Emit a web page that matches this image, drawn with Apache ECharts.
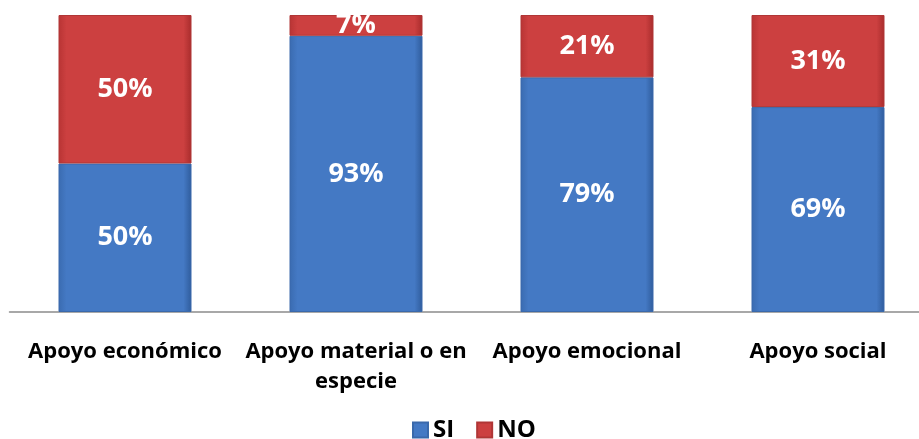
<!DOCTYPE html>
<html><head><meta charset="utf-8">
<script src="https://cdn.jsdelivr.net/npm/echarts@6/dist/echarts.min.js"></script>
<style>html,body{margin:0;padding:0;background:#fff;overflow:hidden;width:919px;height:439px}#c{width:934px;height:439px}</style>
</head><body><div id="c"></div>
<script>
const categories = ['Apoyo económico', 'Apoyo material o en\nespecie', 'Apoyo emocional', 'Apoyo social'];
const siValues = [50, 93, 79, 69];
const noValues = [50, 7, 21, 31];
const seriesNames = ['SI', 'NO'];

function grad(c1, c2, c3) {
  return new echarts.graphic.LinearGradient(0, 0, 1, 0, [
    {offset: 0, color: c1}, {offset: 0.06, color: c2}, {offset: 0.94, color: c2}, {offset: 1, color: c3}
  ]);
}
const font = '"Open Sans", "Liberation Sans", sans-serif';
const chart = echarts.init(document.getElementById('c'));
chart.setOption({
  animation: false,
  grid: {left: 9.5, top: 15, width: 924, bottom: 127, containLabel: false},
  legend: {
    top: 413, left: 407, itemWidth: 15, itemHeight: 15, itemGap: 22,
    icon: 'rect',
    textStyle: {fontFamily: font, fontWeight: 'bold', fontSize: 24, color: '#000'},
    data: seriesNames
  },
  xAxis: {
    type: 'category', data: categories,
    axisLine: {lineStyle: {color: '#8c8c8c', width: 1.5}},
    axisTick: {show: false},
    axisLabel: {margin: 25, fontFamily: font, fontWeight: 'bold', fontSize: 22, color: '#000', lineHeight: 30, interval: 0}
  },
  yAxis: {type: 'value', min: 0, max: 100, show: false, splitLine: {show: false}},
  series: [
    {
      name: seriesNames[0], type: 'bar', stack: 't', data: siValues, barWidth: 133,
      itemStyle: {color: grad('#3a6bb0', '#4479c4', '#2f5c9c'), borderColor: '#3a69ab', borderWidth: 1},
      label: {show: true, position: 'inside', formatter: '{c}%', color: '#fff', fontFamily: font, fontWeight: 'bold', fontSize: 27}
    },
    {
      name: seriesNames[1], type: 'bar', stack: 't', data: noValues, barWidth: 133,
      itemStyle: {color: grad('#b83434', '#cc4040', '#a82c2c'), borderColor: '#b03636', borderWidth: 1},
      label: {show: true, position: 'inside', formatter: '{c}%', color: '#fff', fontFamily: font, fontWeight: 'bold', fontSize: 27}
    }
  ]
});
</script></body></html>
